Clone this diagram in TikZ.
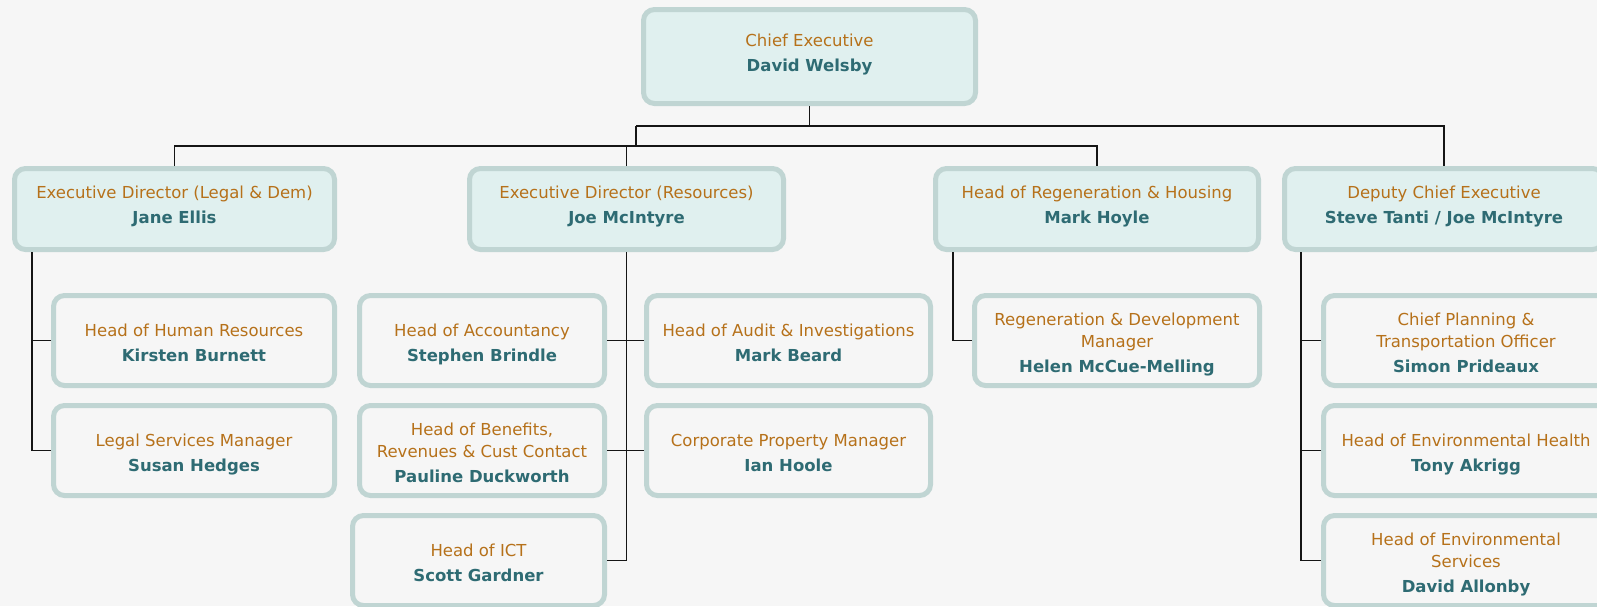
\documentclass[tikz,border=0pt]{standalone}
\usepackage{fontspec}
\setmainfont{DejaVu Sans}
\definecolor{bgc}{HTML}{F6F6F6}
\definecolor{lonefill}{HTML}{E0F0EF}
\definecolor{ltwofill}{HTML}{F6F6F6}
\definecolor{bordc}{HTML}{C0D5D3}
\definecolor{titlec}{HTML}{B6711A}
\definecolor{namec}{HTML}{2E6B73}
\definecolor{connc}{HTML}{151515}
\newcommand\pname[1]{{\bfseries\color{namec}#1\vphantom{gy}}}
\begin{document}
\begin{tikzpicture}[x=1pt,y=-1pt,
  orgbox/.style={draw=bordc, line width=5pt, rounded corners=11pt, inner sep=0pt},
  lone/.style={orgbox, fill=lonefill, minimum height=81pt},
  ltwo/.style={orgbox, fill=ltwofill, minimum height=90pt},
  txt/.style={align=center, font=\fontsize{16.5}{22}\selectfont, text=titlec, inner sep=0pt, yshift=-4pt},
  txtone/.style={txt, yshift=6pt},
  conn/.style={draw=connc, line width=1.8pt}]
\useasboundingbox (0,0) rectangle (1597,606);
\fill[bgc] (0,0) rectangle (1597,606);
\clip (0,0) rectangle (1597,606);

% top
\node[lone, minimum width=332pt, minimum height=94pt] (ce) at (809.5,56.5) {};
% level 1
\node[lone, minimum width=320pt] (edl) at (174.5,209) {};
\node[lone, minimum width=314pt] (edr) at (626.5,209) {};
\node[lone, minimum width=323pt] (hrh) at (1097,209) {};
\node[lone, minimum width=319pt] (dce) at (1444,209) {};
% level 2
\node[ltwo, minimum width=281pt] (hr)  at (194,340.5) {};
\node[ltwo, minimum width=281pt] (lsm) at (194,450.5) {};
\node[ltwo, minimum width=245pt] (acc) at (482,340.5) {};
\node[ltwo, minimum width=245pt] (ben) at (482,450.5) {};
\node[ltwo, minimum width=252pt] (ict) at (478.5,560.5) {};
\node[ltwo, minimum width=284pt] (aud) at (788.5,340.5) {};
\node[ltwo, minimum width=284pt] (cpm) at (788.5,450.5) {};
\node[ltwo, minimum width=285pt] (rdm) at (1117,340.5) {};
\node[ltwo, minimum width=285pt] (cpt) at (1466,340.5) {};
\node[ltwo, minimum width=285pt] (ehe) at (1466,450.5) {};
\node[ltwo, minimum width=285pt] (ese) at (1466,560.5) {};

% texts
\node[txtone] (ce-t)  at (ce)  {Chief Executive\\[3pt]\pname{David Welsby}};
\node[txtone] (edl-t) at (edl) {Executive Director (Legal \& Dem)\\[3pt]\pname{Jane Ellis}};
\node[txtone] (edr-t) at (edr) {Executive Director (Resources)\\[3pt]\pname{Joe McIntyre}};
\node[txtone] (hrh-t) at (hrh) {Head of Regeneration \& Housing\\[3pt]\pname{Mark Hoyle}};
\node[txtone] (dce-t) at (dce) {Deputy Chief Executive\\[3pt]\pname{Steve Tanti / Joe McIntyre}};
\node[txt] (hr-t)  at (hr)  {Head of Human Resources\\[3pt]\pname{Kirsten Burnett}};
\node[txt] (lsm-t) at (lsm) {Legal Services Manager\\[3pt]\pname{Susan Hedges}};
\node[txt] (acc-t) at (acc) {Head of Accountancy\\[3pt]\pname{Stephen Brindle}};
\node[txt] (ben-t) at (ben) {Head of Benefits,\\Revenues \& Cust Contact\\[3pt]\pname{Pauline Duckworth}};
\node[txt] (ict-t) at (ict) {Head of ICT\\[3pt]\pname{Scott Gardner}};
\node[txt] (aud-t) at (aud) {Head of Audit \& Investigations\\[3pt]\pname{Mark Beard}};
\node[txt] (cpm-t) at (cpm) {Corporate Property Manager\\[3pt]\pname{Ian Hoole}};
\node[txt] (rdm-t) at (rdm) {Regeneration \& Development\\Manager\\[3pt]\pname{Helen McCue-Melling}};
\node[txt] (cpt-t) at (cpt) {Chief Planning \&\\Transportation Officer\\[3pt]\pname{Simon Prideaux}};
\node[txt] (ehe-t) at (ehe) {Head of Environmental Health\\[3pt]\pname{Tony Akrigg}};
\node[txt] (ese-t) at (ese) {Head of Environmental\\Services\\[3pt]\pname{David Allonby}};

% connectors
\coordinate (j1) at (636,126);
\coordinate (j2) at (636,146);
\draw[conn] (ce.south) -- (ce.south |- j1);
\draw[conn] (j1) -| (dce.north);
\draw[conn] (j1) -- (j2);
\draw[conn] (edl.north) |- (hrh.north |- j2) -- (hrh.north);
\draw[conn] (edr.north) -- (edr.north |- j2);

\coordinate (edlx) at ([xshift=20pt]edl.south west);
\draw[conn] (edlx) |- (lsm.west);
\draw[conn] (hr.west) -- (hr.west -| edlx);
\draw[conn] (edr.south) |- (ict.east);
\draw[conn] (acc.east) -- (aud.west);
\draw[conn] (ben.east) -- (cpm.west);
\coordinate (hrhx) at ([xshift=20pt]hrh.south west);
\draw[conn] (hrhx) |- (rdm.west);
\coordinate (dcex) at ([xshift=19pt]dce.south west);
\draw[conn] (dcex) |- (ese.west);
\draw[conn] (cpt.west) -- (cpt.west -| dcex);
\draw[conn] (ehe.west) -- (ehe.west -| dcex);
\end{tikzpicture}
\end{document}
